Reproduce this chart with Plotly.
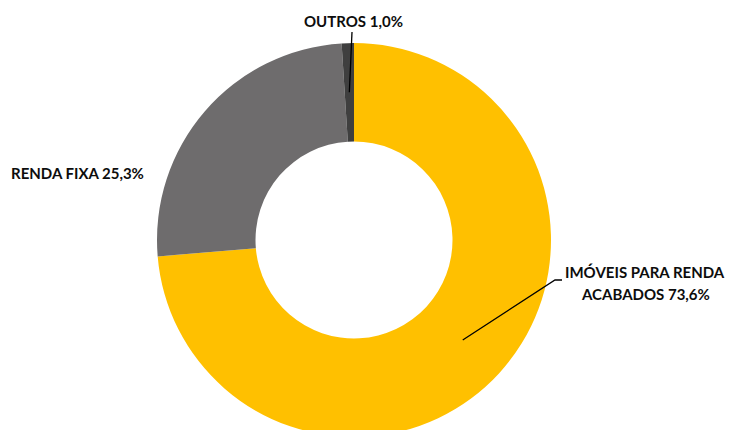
import math
import plotly.graph_objects as go

labels = ["IMÓVEIS PARA RENDA ACABADOS", "RENDA FIXA", "OUTROS"]
label_lines = [["IMÓVEIS PARA RENDA", "ACABADOS"], ["RENDA FIXA"], ["OUTROS"]]
values = [73.6, 25.3, 1.0]
colors = ["#FFC000", "#6E6C6D", "#3F3F3F"]

W, H = 732, 437
CX, CY, R = 354, 240, 197   # pie centre / radius in px
HOLE = 0.5

fig = go.Figure(go.Pie(
    labels=labels, values=values, sort=False, direction="clockwise", rotation=0,
    hole=HOLE, marker=dict(colors=colors, line=dict(width=0)),
    textinfo="none", hoverinfo="label+percent", showlegend=False,
    domain=dict(x=[(CX - R) / W, (CX + R) / W], y=[1 - (CY + R) / H, 1 - (CY - R) / H]),
))

def px(x, y):
    return x / W, 1 - y / H

total = sum(values)
mids = []
acc = 0
for v in values:
    mids.append((acc + v / 2) / total * 360)
    acc += v

def ring_point(angle_deg, frac=0.75):
    a = math.radians(angle_deg)
    return CX + R * frac * math.sin(a), CY - R * frac * math.cos(a)

font = dict(family="Lato, Open Sans, sans-serif", size=15, color="#0d0d0d")
text_pos = [(645, 272), (77, 173), (353, 21)]
LINE_GAP = 22
annotations = []
for i, (lines, v) in enumerate(zip(label_lines, values)):
    pct = ("%.1f" % v).replace(".", ",") + "%"
    rows = lines[:-1] + [lines[-1] + " " + pct]
    for k, row in enumerate(rows):
        tx, ty = px(text_pos[i][0], text_pos[i][1] + k * LINE_GAP)
        annotations.append(dict(
            x=tx, y=ty, xref="paper", yref="paper", showarrow=False,
            text="<b>%s</b>" % row,
            font=font, align="center", xanchor="center", yanchor="middle"))

shapes = []
# leader for first slice
ax0, ay0 = ring_point(mids[0])
p = [px(ax0, ay0), px(555, 280), px(562, 280)]
shapes.append(dict(type="path", xref="paper", yref="paper",
                   path="M %f %f L %f %f L %f %f" % (p[0][0], p[0][1], p[1][0], p[1][1], p[2][0], p[2][1]),
                   line=dict(color="#000000", width=1.3)))
# leader for last slice
ax2, ay2 = ring_point(mids[2])
q = [px(ax2, ay2), px(352, 32)]
shapes.append(dict(type="line", xref="paper", yref="paper",
                   x0=q[0][0], y0=q[0][1], x1=q[1][0], y1=q[1][1],
                   line=dict(color="#000000", width=1.3)))

fig.update_layout(
    width=W, height=H, margin=dict(l=0, r=0, t=0, b=0),
    paper_bgcolor="white", plot_bgcolor="white",
    annotations=annotations, shapes=shapes,
)

fig.write_html("out.html", config={"displayModeBar": False},
               post_script="document.body.style.margin='0';document.body.style.overflow='hidden';")
